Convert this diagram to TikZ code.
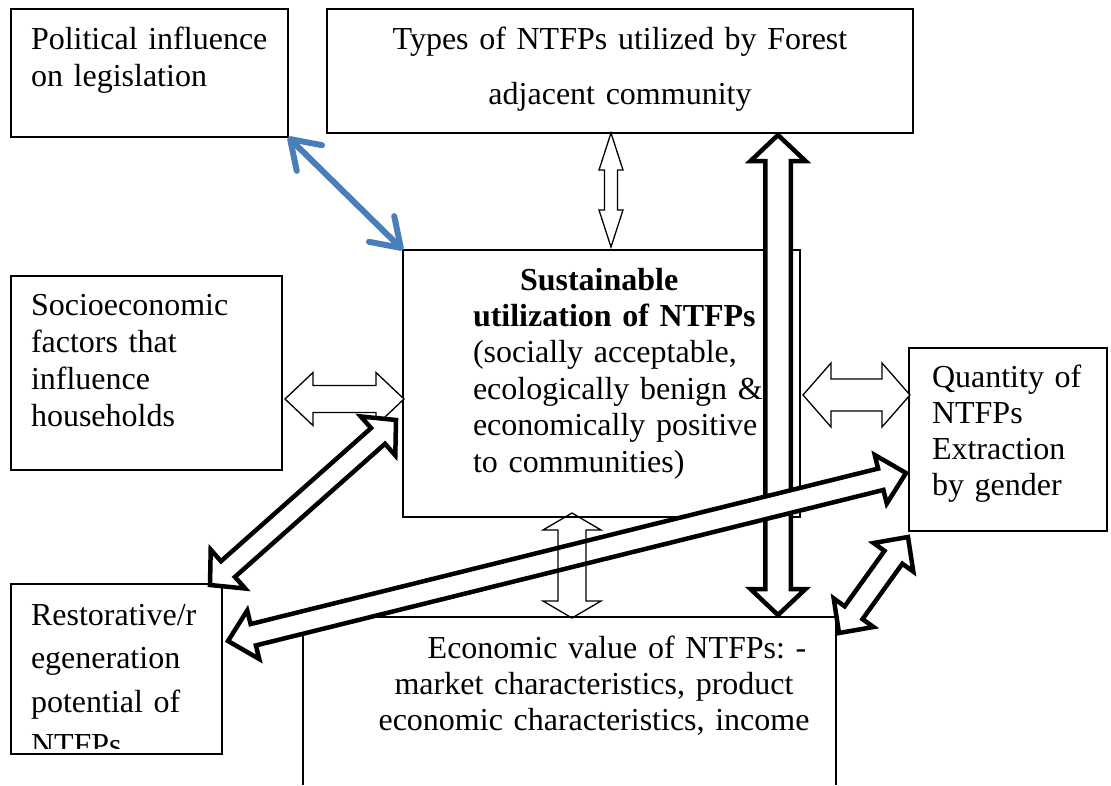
\documentclass[tikz,border=0pt]{standalone}
\usepackage{fontspec}
\setmainfont{Liberation Serif}
\usetikzlibrary{calc,arrows.meta}
\definecolor{linkblue}{RGB}{74,126,187}
\frenchspacing

% double-headed block arrow: #1 style, #2/#3 tips, #4 shaft half width,
% #5 head half width, #6 head length
\newcommand\dblarrow[6]{%
  \coordinate (ha) at ($(#2)!#6!(#3)$);
  \coordinate (hb) at ($(#3)!#6!(#2)$);
  \draw[#1] (#2)
    -- ($(ha)!#5!90:(#3)$) -- ($(ha)!#4!90:(#3)$)
    -- ($(hb)!#4!-90:(#2)$) -- ($(hb)!#5!-90:(#2)$)
    -- (#3)
    -- ($(hb)!#5!90:(#2)$) -- ($(hb)!#4!90:(#2)$)
    -- ($(ha)!#4!-90:(#3)$) -- ($(ha)!#5!-90:(#3)$)
    -- cycle;}

\tikzset{
  box/.style={draw=black, line width=1.3pt, inner sep=0pt, outer sep=0pt, anchor=north west},
  txt/.style={inner sep=0pt, outer sep=0pt, font=\fontsize{32}{37}\selectfont,
              anchor=base west, align=left},
  thinarrow/.style={draw=black, fill=white, line width=1.3pt, line join=miter},
  openarrow/.style={draw=black, line width=1.3pt, line join=miter},
  thickarrow/.style={draw=black, fill=white, line width=4.5pt, line join=miter, miter limit=10},
  bluearrow/.style={draw=linkblue, line width=6pt, line cap=round,
    {Straight Barb[length=27pt,width=36pt,round]}-{Straight Barb[length=27pt,width=36pt,round]}}
}

\begin{document}
\begin{tikzpicture}[x=1pt,y=-1pt]
\useasboundingbox (0,0) rectangle (1111,785);

% boxes
\node[box, minimum width=277, minimum height=128] (pol) at (11,9) {};
\node[box, minimum width=586, minimum height=124] (types) at (327,9) {};
\node[box, line width=1.1pt, minimum width=397, minimum height=267] (ctr) at (403,250) {};
\node[box, minimum width=271, minimum height=194] (soc) at (11,276) {};
\node[box, minimum width=198, minimum height=183] (qty) at (909,348) {};
\node[box, minimum width=211, minimum height=170] (rest) at (11,584) {};
\node[inner sep=0pt, outer sep=0pt, anchor=north west, minimum width=533, minimum height=168] (econ) at (303,617) {};
\draw[line width=1.3pt] (econ.south west) -- (econ.north west) -- (econ.north east) -- (econ.south east);

% texts
\node[txt, text width=250] (poltxt) at (31,49) {Political influence\\on legislation};
\node[txt, text width=580, align=center, anchor=base, font=\fontsize{32}{55}\selectfont]
  (typestxt) at (620,49) {Types of NTFPs utilized by Forest\\adjacent community};
\node[txt, text width=320, font=\fontsize{32}{36.4}\selectfont] (ctrtxt) at (473,290)
  {\hspace*{47pt}\textbf{Sustainable}\\\textbf{utilization of NTFPs}\\(socially acceptable,\\ecologically benign \&\\economically positive\\to communities)};
\node[txt, text width=250] (soctxt) at (31,315) {Socioeconomic\\factors that\\influence\\households};
\node[txt, text width=175, font=\fontsize{32}{36}\selectfont] (qtytxt) at (932,387)
  {Quantity of\\NTFPs\\Extraction\\by gender};
\begin{scope}
  \clip (11,584) rectangle (222,748);
  \node[txt, text width=200, font=\fontsize{32}{43.5}\selectfont] (resttxt) at (31,625)
    {Restorative/r\\egeneration\\potential of\\NTFPs};
\end{scope}
\node[txt, text width=480, align=center, anchor=base, font=\fontsize{32}{36}\selectfont]
  (econtxt) at (594,658)
  {\hspace*{46pt}Economic value of NTFPs: -\\market characteristics, product\\economic characteristics, income};

% arrow end points
\coordinate (tcA) at (611,133);  \coordinate (tcB) at (611,247);
\coordinate (scA) at (285,399);  \coordinate (scB) at (404,399);
\coordinate (cqA) at (803,395);  \coordinate (cqB) at (910,395);
\coordinate (ceA) at (572,513);  \coordinate (ceB) at (572,618);
\coordinate (teA) at (778,135);  \coordinate (teB) at (778,615);
\coordinate (rcA) at (396,420);  \coordinate (rcB) at (210,585);
\coordinate (qrA) at (906,473);  \coordinate (qrB) at (228,641);
\coordinate (qeA) at (908,537);  \coordinate (qeB) at (839,633);

% blue link between legislation and sustainable utilization
\draw[bluearrow] (pol.south east) -- (ctr.north west);

% thin block arrows
\dblarrow{thinarrow}{tcA}{tcB}{6.5pt}{12pt}{37pt}
\dblarrow{thinarrow}{scA}{scB}{13.5pt}{26.5pt}{28pt}
\dblarrow{thinarrow}{cqA}{cqB}{16pt}{32pt}{28pt}

% heavy block arrows
\dblarrow{thickarrow}{teA}{teB}{12.75pt}{27.5pt}{26pt}
\dblarrow{thickarrow}{rcA}{rcB}{10.5pt}{26pt}{24pt}
\dblarrow{thickarrow}{qrA}{qrB}{11pt}{25pt}{26pt}
\dblarrow{thickarrow}{qeA}{qeB}{11pt}{24.5pt}{25pt}

% outline-only arrow between sustainable utilization and economic value
\dblarrow{openarrow}{ceA}{ceB}{14pt}{29pt}{17pt}
\end{tikzpicture}
\end{document}
